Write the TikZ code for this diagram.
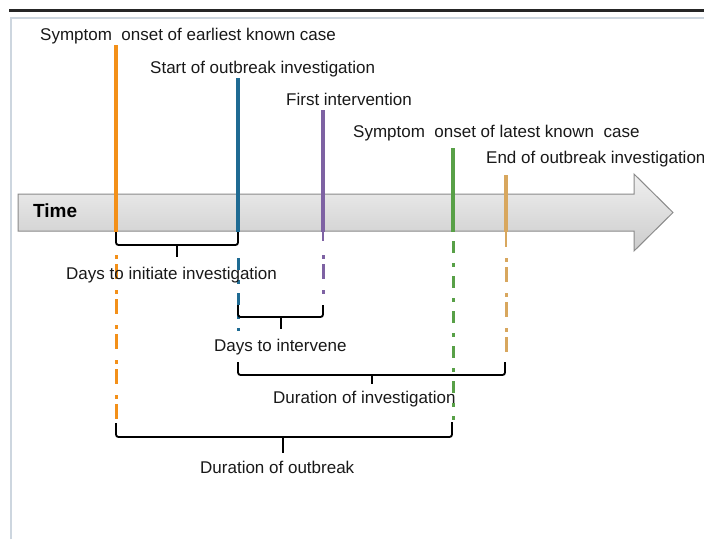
\documentclass[tikz,border=0pt]{standalone}
\usepackage{fontspec}
\setmainfont{Liberation Sans}
\definecolor{mOrange}{HTML}{F39019}
\definecolor{mBlue}{HTML}{1F6B93}
\definecolor{mPurple}{HTML}{7E62A3}
\definecolor{mGreen}{HTML}{58A047}
\definecolor{mTan}{HTML}{D8A75E}
\definecolor{frameLine}{HTML}{CDD6DF}
\definecolor{arrowEdge}{HTML}{8A8A8A}
\begin{document}
\begin{tikzpicture}[x=1pt,y=-1pt,
  lbl/.style={anchor=mid west, inner sep=0pt, text=black!90, font=\fontsize{17}{20}\selectfont},
  timelbl/.style={anchor=mid west, inner sep=0pt, font=\bfseries\fontsize{19}{22}\selectfont},
  marker/.style={line width=4pt},
  stub/.style={line width=2pt},
  dashdot/.style={line width=3pt, dash pattern=on 3.5pt off 5.5pt on 15pt off 11pt},
  dashfirst/.style={line width=3pt, dash pattern=on 12pt off 10pt on 3.5pt off 9.5pt},
  bracket/.style={line width=1.8pt, rounded corners=2.5pt},
]
\useasboundingbox (0,0) rectangle (704,539);
\fill[white] (0,0) rectangle (704,539);
% frame
\draw[frameLine, line width=1.5pt] (11,539) -- (11,18) -- (704,18);
\draw[black!85, line width=3pt] (9,10) -- (704,10);

% time arrow
\draw[draw=arrowEdge, line width=1pt, top color=gray!12, bottom color=gray!40]
  (18,194) -- (634,194) -- (634,174) -- (673,212.5) -- (634,251) -- (634,231) -- (18,231) -- cycle;
\node[timelbl] (time) at (33,215) {Time};

% marker coordinates
\coordinate (oT) at (116,45);  \coordinate (oB) at (116,232);
\coordinate (bT) at (238,78);  \coordinate (bB) at (238,232);
\coordinate (pT) at (323,110); \coordinate (pB) at (323,232);
\coordinate (gT) at (453,148); \coordinate (gB) at (453,232);
\coordinate (tT) at (506,175); \coordinate (tB) at (506,232);

% solid markers
\draw[marker, mOrange] (oT) -- (oB);
\draw[marker, mBlue]   (bT) -- (bB);
\draw[marker, mPurple] (pT) -- (pB);
\draw[marker, mGreen]  (gT) -- (gB);
\draw[marker, mTan]    (tT) -- (tB);

% stubs below bar
\coordinate (pS) at (323,241);
\coordinate (tS) at (506,247);
\draw[stub, mPurple] (pB) -- (pS);
\draw[stub, mTan] (tB) -- (tS);

% dash-dot extensions
\coordinate (oD1) at (116,255); \coordinate (oD2) at (116,423);
\coordinate (bD1) at (238,258); \coordinate (bD2) at (238,331);
\coordinate (pD1) at (323,255); \coordinate (pD2) at (323,294);
\coordinate (gD1) at (453,241); \coordinate (gD2) at (453,420);
\coordinate (tD1) at (506,258); \coordinate (tD2) at (506,356);
\draw[dashdot, mOrange] (oD1) -- (oD2);
\draw[dashfirst, mBlue] (bD1) -- (bD2);
\draw[dashdot, mPurple] (pD1) -- (pD2);
\draw[dashfirst, mGreen] (gD1) -- (gD2);
\draw[dashdot, mTan] (tD1) -- (tD2);

% bracket 1: days to initiate investigation
\coordinate (b1m) at (177,245);
\draw[bracket] (oB) -- (116,245) -- (238,245) -- (bB);
\draw[line width=1.8pt] (b1m) -- (177,257);
% bracket 2: days to intervene
\coordinate (b2m) at (281,317);
\draw[bracket] (238,305) -- (238,317) -- (323,317) -- (323,305);
\draw[line width=1.8pt] (b2m) -- (281,329);
% bracket 3: duration of investigation
\coordinate (b3m) at (372,375);
\draw[bracket] (238,362) -- (238,375) -- (505,375) -- (505,362);
\draw[line width=1.8pt] (b3m) -- (372,384);
% bracket 4: duration of outbreak
\coordinate (b4m) at (283,437);
\draw[bracket] (oD2) -- (116,437) -- (452,437) -- (452,422);
\draw[line width=1.8pt] (b4m) -- (283,453);

% event labels
\node[lbl] (l1) at (40,38)  {Symptom\ \ onset of earliest known case};
\node[lbl] (l2) at (150,71) {Start of outbreak investigation};
\node[lbl] (l3) at (286,103) {First intervention};
\node[lbl] (l4) at (353,135) {Symptom\ \ onset of latest known\ \ case};
\node[lbl] (l5) at (486,161) {End of outbreak investigation};

% interval labels
\node[lbl] (i1) at (66,277)  {Days to initiate investigation};
\node[lbl] (i2) at (214,349) {Days to intervene};
\node[lbl] (i3) at (273,401) {Duration of investigation};
\node[lbl] (i4) at (200,471) {Duration of outbreak};
\end{tikzpicture}
\end{document}
